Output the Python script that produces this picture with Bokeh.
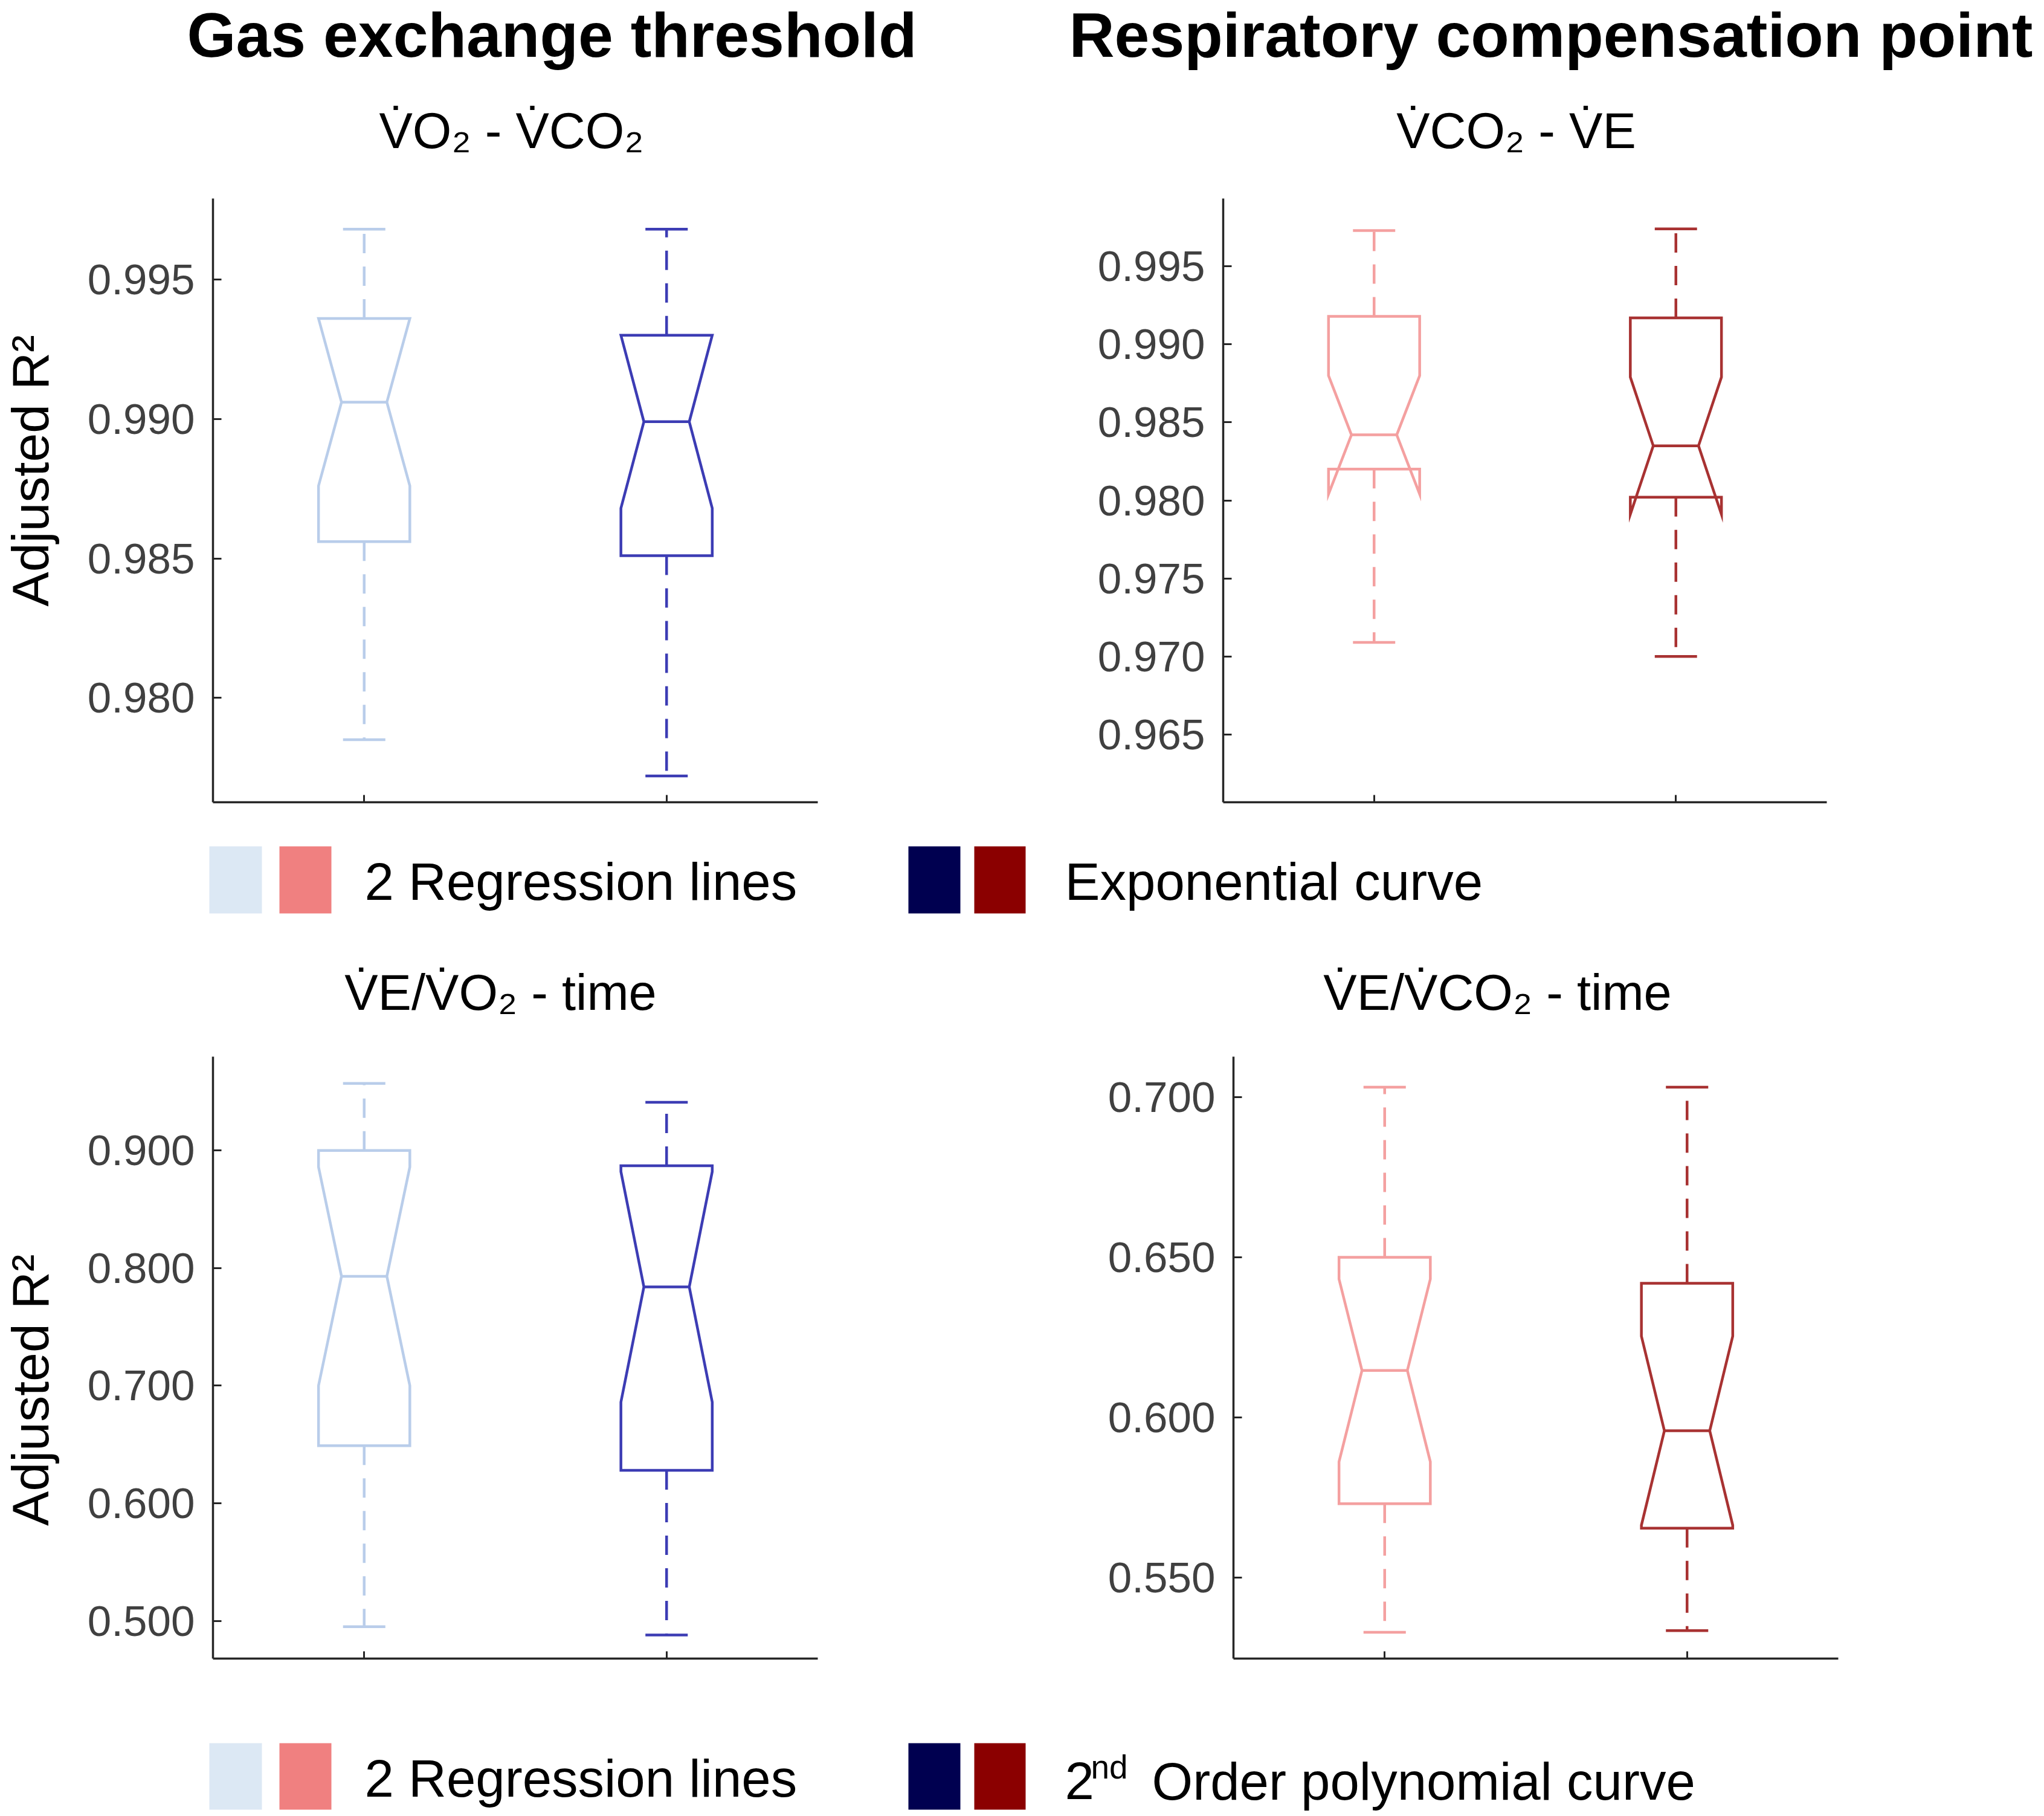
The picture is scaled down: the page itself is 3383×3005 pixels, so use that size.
import math
from bokeh.plotting import figure
from bokeh.models import Range1d, FixedTicker, PrintfTickFormatter, ColumnDataSource
from bokeh.layouts import column, row
from bokeh.embed import file_html
from bokeh.resources import INLINE
from bokeh.core.properties import value

# ---------------- data ----------------
x_pos = [1, 2]

# Gas exchange threshold : VO2 - VCO2 (2 regression lines, exponential curve)
gv_low = [0.9785, 0.9772]
gv_q1 = [0.9856, 0.9851]
gv_med = [0.9906, 0.9899]
gv_q3 = [0.9936, 0.9930]
gv_high = [0.9968, 0.9968]
gv_notch = [0.0030, 0.0031]

# Respiratory compensation point : VCO2 - VE
rv_low = [0.9709, 0.9700]
rv_q1 = [0.9820, 0.9802]
rv_med = [0.9842, 0.9835]
rv_q3 = [0.9918, 0.9917]
rv_high = [0.9973, 0.9974]
rv_notch = [0.0038, 0.0044]

# Gas exchange threshold : VE/VO2 - time (2 regression lines, 2nd order polynomial)
gt_low = [0.495, 0.488]
gt_q1 = [0.649, 0.628]
gt_med = [0.793, 0.784]
gt_q3 = [0.900, 0.887]
gt_high = [0.957, 0.941]
gt_notch = [0.093, 0.098]

# Respiratory compensation point : VE/VCO2 - time
rt_low = [0.533, 0.5335]
rt_q1 = [0.5731, 0.5655]
rt_med = [0.6147, 0.5959]
rt_q3 = [0.650, 0.6419]
rt_high = [0.7031, 0.7031]
rt_notch = [0.0285, 0.0295]

tl_ticks = [0.980, 0.985, 0.990, 0.995]
tr_ticks = [0.965, 0.970, 0.975, 0.980, 0.985, 0.990, 0.995]
bl_ticks = [0.500, 0.600, 0.700, 0.800, 0.900]
br_ticks = [0.550, 0.600, 0.650, 0.700]

tl_range = (0.97626, 0.9979)
tr_range = (0.96065, 0.99935)
bl_range = (0.4679, 0.9798)
br_range = (0.5248, 0.7126)

main_titles = ["Gas exchange threshold", "Respiratory compensation point"]
top_subtitles = ["V\u0307O\u2082 - V\u0307CO\u2082", "V\u0307CO\u2082 - V\u0307E"]
bottom_subtitles = ["V\u0307E/V\u0307O\u2082 - time", "V\u0307E/V\u0307CO\u2082 - time"]
legend_light_label = "2 Regression lines"
legend_dark_label_top = "Exponential curve"
legend_dark_label_bottom = ["2", "nd", "Order polynomial curve"]
y_label = "Adjusted R\u00b2"

legend_light = ["#dce8f4", "#f08080"]
legend_dark = ["#000050", "#8b0000"]
blue_lines = ["#b9cdea", "#3c3cb4"]
red_lines = ["#f4a0a0", "#a83232"]

FONT = value("Liberation Sans")
AX = "#262626"
LINE_W = 4.5

BOX_W = 0.151
NOTCH_W = 0.075
CAP_W = 0.07

# the svg text is drawn lower than its "alphabetic" anchor by about this
# fraction of the font size; anchors are corrected by it
BASE_SHIFT = 0.36


def by(baseline, size):
    return baseline - BASE_SHIFT * size


def make_panel(width, height, lb, rb, tb, bb, yr, ticks, low, q1, med, q3, high,
               notch, colors):
    p = figure(width=width, height=height, x_range=Range1d(0.5, 2.5),
               y_range=Range1d(*yr), output_backend="svg", toolbar_location=None,
               min_border_left=lb, min_border_right=rb, min_border_top=tb,
               min_border_bottom=bb)
    p.outline_line_color = None
    p.grid.visible = False
    p.background_fill_color = "white"
    p.border_fill_color = "white"

    xs, ys = [], []
    for i, x in enumerate(x_pos):
        nhi = med[i] + notch[i]
        nlo = med[i] - notch[i]
        xs.append([x - BOX_W, x - BOX_W, x - NOTCH_W, x - BOX_W, x - BOX_W,
                   x + BOX_W, x + BOX_W, x + NOTCH_W, x + BOX_W, x + BOX_W])
        ys.append([q3[i], nhi, med[i], nlo, q1[i],
                   q1[i], nlo, med[i], nhi, q3[i]])
    p.patches(xs, ys, fill_color=None, line_color=colors, line_width=LINE_W,
              line_join="miter")

    src = ColumnDataSource(dict(
        x=x_pos,
        xl=[x - NOTCH_W for x in x_pos], xr=[x + NOTCH_W for x in x_pos],
        cl=[x - CAP_W for x in x_pos], cr=[x + CAP_W for x in x_pos],
        low=low, q1=q1, med=med, q3=q3, high=high, color=colors))
    p.segment(x0="xl", y0="med", x1="xr", y1="med", source=src,
              line_color="color", line_width=LINE_W)
    p.segment(x0="x", y0="q3", x1="x", y1="high", source=src,
              line_color="color", line_width=LINE_W, line_dash="32 22")
    p.segment(x0="x", y0="q1", x1="x", y1="low", source=src,
              line_color="color", line_width=LINE_W, line_dash="32 22")
    p.segment(x0="cl", y0="high", x1="cr", y1="high", source=src,
              line_color="color", line_width=LINE_W)
    p.segment(x0="cl", y0="low", x1="cr", y1="low", source=src,
              line_color="color", line_width=LINE_W)

    xa = p.xaxis[0]
    xa.ticker = FixedTicker(ticks=x_pos)
    xa.major_label_overrides = {1: "", 2: ""}
    xa.major_label_standoff = 0
    xa.major_tick_in = 12
    xa.major_tick_out = 0
    xa.minor_tick_line_color = None
    xa.axis_line_width = 3.5
    xa.axis_line_color = AX
    xa.major_tick_line_color = AX
    xa.major_tick_line_width = 3

    ya = p.yaxis[0]
    ya.ticker = FixedTicker(ticks=ticks)
    ya.formatter = PrintfTickFormatter(format="%.3f")
    ya.major_label_text_font = "Liberation Sans"
    ya.major_label_text_font_size = "71px"
    ya.major_label_text_color = "#404040"
    ya.major_label_standoff = 30
    ya.major_tick_in = 14
    ya.major_tick_out = 0
    ya.minor_tick_line_color = None
    ya.axis_line_width = 3.5
    ya.axis_line_color = AX
    ya.major_tick_line_color = AX
    ya.major_tick_line_width = 3
    return p


def make_canvas(width, height, flip=True):
    yr = Range1d(height, 0) if flip else Range1d(0, height)
    c = figure(width=width, height=height, x_range=Range1d(0, width),
               y_range=yr, output_backend="svg",
               toolbar_location=None, x_axis_type=None, y_axis_type=None,
               min_border=0)
    c.outline_line_color = None
    c.grid.visible = False
    c.background_fill_color = "white"
    c.border_fill_color = "white"
    return c


def label_canvas(height, center_from_top):
    # rotated y-axis title "Adjusted R²" set in its own strip left of a panel
    c = make_canvas(LABEL_W, height, flip=False)
    c.text(x=[80 - BASE_SHIFT * 86], y=[height - center_from_top], text=[y_label],
           angle=math.pi / 2, text_font=FONT, text_font_size=value("86px"),
           text_align="center", text_baseline="alphabetic", text_color="black")
    return c


W = 3375
LABEL_W = 120
LW = 1690 - LABEL_W
RW = 1685

# header with main titles and top subtitles
h1 = make_canvas(W, 300)
h1.text(x=[309, 1769], y=[by(95, 104)] * 2, text=main_titles, text_font=FONT,
        text_font_size=value("104px"), text_font_style="bold",
        text_align="left", text_baseline="alphabetic", text_color="black")
h1.text(x=[846, 2509], y=[by(246, 83)] * 2, text=top_subtitles, text_font=FONT,
        text_font_size=value("83px"), text_align="center",
        text_baseline="alphabetic", text_color="black")

lab_top = label_canvas(1080, 487)
p_tl = make_panel(LW, 1080, 352 - LABEL_W, 337, 28, 53, tl_range, tl_ticks, gv_low,
                  gv_q1, gv_med, gv_q3, gv_high, gv_notch, blue_lines)
p_tr = make_panel(RW, 1080, 334, 352, 28, 53, tr_range, tr_ticks, rv_low, rv_q1,
                  rv_med, rv_q3, rv_high, rv_notch, red_lines)


def legend_canvas(height, sq_top, sq_bot, base_y):
    c = make_canvas(W, height)
    lefts = [346, 462, 1503, 1612]
    rights = [433, 548, 1589, 1697]
    cols = legend_light + legend_dark
    c.quad(left=lefts, right=rights, top=[sq_top] * 4, bottom=[sq_bot] * 4,
           fill_color=cols, line_color=None)
    c.text(x=[603], y=[by(base_y, 87)], text=[legend_light_label], text_font=FONT,
           text_font_size=value("87px"), text_align="left",
           text_baseline="alphabetic", text_color="black")
    return c


lg1 = legend_canvas(180, 20, 131, 109)
lg1.text(x=[1762], y=[by(109, 87)], text=[legend_dark_label_top], text_font=FONT,
         text_font_size=value("87px"), text_align="left",
         text_baseline="alphabetic", text_color="black")

h2 = make_canvas(W, 140)
h2.text(x=[828, 2478], y=[by(112, 83)] * 2, text=bottom_subtitles, text_font=FONT,
        text_font_size=value("83px"), text_align="center",
        text_baseline="alphabetic", text_color="black")

lab_bot = label_canvas(1130, 626)
p_bl = make_panel(LW, 1130, 352 - LABEL_W, 337, 48, 86, bl_range, bl_ticks, gt_low,
                  gt_q1, gt_med, gt_q3, gt_high, gt_notch, blue_lines)
p_br = make_panel(RW, 1130, 351, 333, 48, 86, br_range, br_ticks, rt_low, rt_q1,
                  rt_med, rt_q3, rt_high, rt_notch, red_lines)

lg2 = legend_canvas(170, 54, 164, 143)
lg2.text(x=[1762, 1906], y=[by(148, 87)] * 2,
         text=[legend_dark_label_bottom[0], legend_dark_label_bottom[2]],
         text_font=FONT, text_font_size=value("87px"), text_align="left",
         text_baseline="alphabetic", text_color="black")
lg2.text(x=[1805], y=[by(113, 55)], text=[legend_dark_label_bottom[1]], text_font=FONT,
         text_font_size=value("55px"), text_align="left",
         text_baseline="alphabetic", text_color="black")

layout = column(h1, row(lab_top, p_tl, p_tr), lg1, h2, row(lab_bot, p_bl, p_br), lg2)

open("out.html", "w").write(file_html(layout, INLINE))
